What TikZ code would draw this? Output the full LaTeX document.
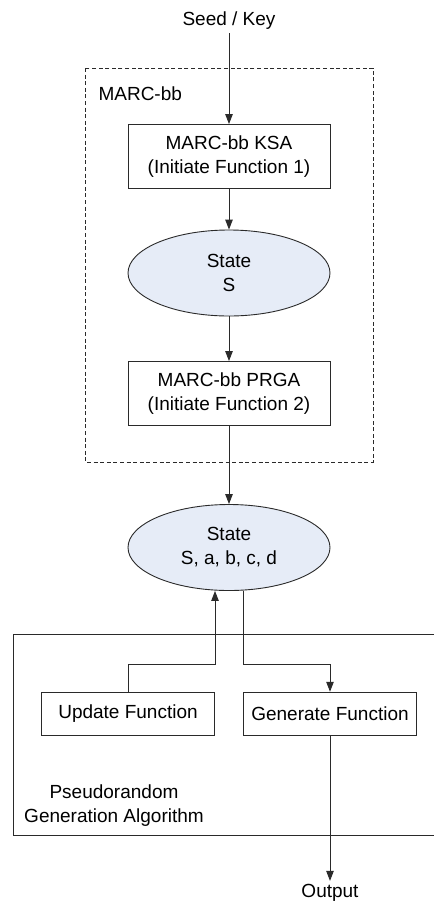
\documentclass[tikz,border=0pt]{standalone}
\usepackage{fontspec}
\setmainfont{Liberation Sans}
\usetikzlibrary{arrows.meta,shapes.geometric}
\definecolor{fillb}{HTML}{E6ECF7}
\definecolor{edge}{HTML}{2A2A2A}
\begin{document}
\begin{tikzpicture}[x=1pt,y=-1pt, font=\fontsize{19}{24}\selectfont,
 box/.style={draw=edge, line width=0.9pt, minimum width=202pt, minimum height=64pt, inner sep=0pt, align=center},
 ell/.style={ellipse, draw=edge, fill=fillb, line width=0.9pt, minimum width=202pt, minimum height=86pt, inner sep=0pt, align=center},
 fbox/.style={draw=edge, line width=0.9pt, minimum width=173pt, minimum height=43pt, inner sep=0pt},
 arr/.style={-{Triangle[length=10pt,width=7.5pt]}, line width=0.9pt, draw=edge},
 ln/.style={line width=0.9pt, draw=edge},
 grp/.style={draw=edge, line width=0.9pt, dash pattern=on 4pt off 2.6pt}]
\useasboundingbox[fill=white] (0,0) rectangle (434,905);
% dashed group
\draw[grp] (85,68) rectangle (373,462);
% PRGA frame (open to the right)
\draw[ln] (434,634.3) -- (13.3,634.3) -- (13.3,835.7) -- (434,835.7);

\node (seed) at (229,21) {Seed / Key};
\node[anchor=base west] (lbl) at (95,100) {MARC-bb};
\node[box] (ksa) at (229,156.5) {MARC-bb KSA\\(Initiate Function 1)};
\node[ell] (s1) at (229,273) {State\\S};
\node[box] (prga) at (229,393.5) {MARC-bb PRGA\\(Initiate Function 2)};
\node[ell] (s2) at (229,547.5) {State\\S, a, b, c, d};
\node[fbox] (upd) at (128,713.7) {Update Function};
\node[fbox] (gen) at (330,713.7) {Generate Function};
\node[align=center] (pga) at (114,806) {Pseudorandom\\Generation Algorithm};
\node (out) at (330,893) {Output};

\coordinate (upx) at (215,664.3);
\coordinate (dnx) at (243.3,664.3);

\draw[arr] (seed.south) -- (ksa.north);
\draw[arr] (ksa) -- (s1);
\draw[arr] (s1) -- (prga);
\draw[arr] (prga) -- (s2);
\draw[arr] (upd.north) |- (upx) -- (upx |- s2.south);
\draw[arr] (dnx |- s2.south) -- (dnx) -| (gen.north);
\draw[arr] (gen.south) -- (out.north);
\end{tikzpicture}
\end{document}
